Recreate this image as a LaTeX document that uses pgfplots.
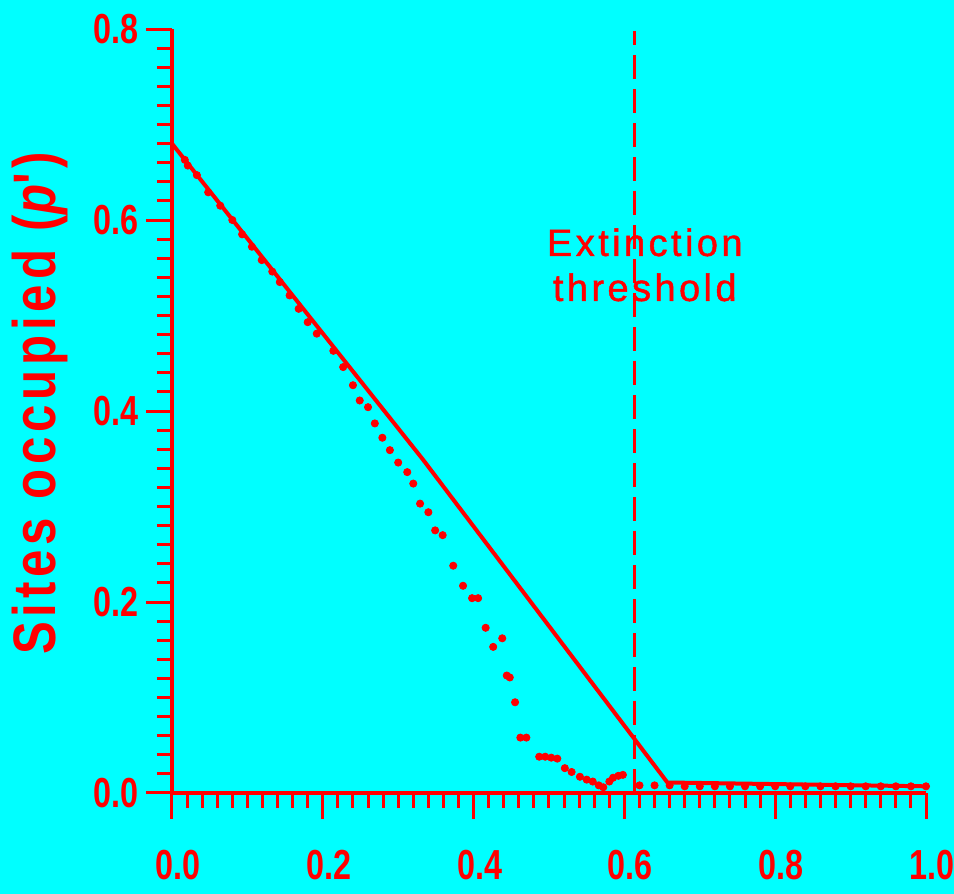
\documentclass[border=0pt]{standalone}
\usepackage{pgfplots}
\pgfplotsset{compat=1.18}
\usepackage{fontspec}
\setmainfont{Liberation Sans}
\newfontfamily\tickfont{Liberation Sans}[FakeStretch=0.77]
\newfontfamily\labfont{Liberation Sans}[FakeStretch=0.82,LetterSpace=8]
\newfontfamily\notefont{Liberation Sans}[LetterSpace=9,FakeBold=1.2]
\definecolor{bg}{HTML}{00FFFF}
\definecolor{ink}{HTML}{FF0000}

\begin{document}
\begin{tikzpicture}
\fill[bg] (-86pt,-50.5pt) rectangle (391pt,396.5pt);
\begin{axis}[
  scale only axis, width=377pt, height=382pt,
  xmin=0, xmax=1, ymin=0, ymax=0.8,
  clip=false,
  axis lines=left,
  axis line style={-, draw=ink, line width=2pt},
  xtick={0,0.2,0.4,0.6,0.8,1.0},
  ytick={0,0.2,0.4,0.6,0.8},
  minor tick num=9,
  tick align=outside,
  major tick length=13pt, minor tick length=7.5pt,
  tick style={draw=ink, line width=1.5pt},
  tick label style={font=\tickfont\bfseries\fontsize{21}{21}\selectfont, text=ink},
  xticklabel style={xshift=3pt, yshift=-12pt},
  /pgf/number format/.cd, fixed, fixed zerofill, precision=1, assume math mode=true,
  /pgfplots/.cd,
  ylabel={Sites occupied ({\itshape p}')},
  ylabel style={font=\labfont\bfseries\fontsize{30}{30}\selectfont, text=ink,
    at={(axis description cs:-0.175,0.51)}, anchor=center},
]
% model line
\addplot[ink, line width=2pt] coordinates {(0,0.68)(0.333,0.349)(0.657,0.011)(1.0,0.007)};
% threshold
\addplot[ink, line width=1.5pt, dash pattern=on 12pt off 5pt] coordinates {(0.614,0)(0.614,0.798)};
% simulation points
\addplot[only marks, mark=*, mark size=1.8pt, ink] coordinates {
(0.017,0.663)(0.021,0.657)(0.033,0.647)(0.048,0.629)(0.064,0.615)(0.080,0.600)
(0.093,0.585)(0.106,0.572)(0.119,0.558)(0.133,0.546)(0.143,0.535)(0.156,0.521)
(0.168,0.507)(0.180,0.493)(0.192,0.481)(0.214,0.463)(0.227,0.446)(0.240,0.427)
(0.249,0.411)(0.260,0.404)(0.269,0.387)(0.279,0.372)(0.289,0.359)(0.300,0.346)
(0.312,0.336)(0.320,0.324)(0.329,0.303)(0.340,0.294)(0.349,0.275)(0.359,0.270)
(0.373,0.238)(0.386,0.217)(0.398,0.204)(0.406,0.204)(0.416,0.173)(0.426,0.153)
(0.438,0.162)(0.444,0.123)(0.448,0.121)(0.455,0.095)(0.462,0.058)(0.470,0.058)
(0.487,0.038)(0.495,0.038)(0.503,0.037)(0.511,0.036)(0.521,0.026)(0.530,0.022)
(0.541,0.017)(0.550,0.014)(0.558,0.012)(0.566,0.008)(0.572,0.006)(0.580,0.012)
(0.585,0.016)(0.592,0.018)(0.598,0.019)
(0.62,0.008)(0.64,0.008)(0.66,0.008)(0.68,0.007)(0.70,0.007)(0.72,0.007)
(0.74,0.007)(0.76,0.007)(0.78,0.007)(0.80,0.007)(0.82,0.007)(0.84,0.007)
(0.86,0.007)(0.88,0.007)(0.90,0.007)(0.92,0.007)(0.94,0.007)(0.96,0.007)
(0.98,0.007)(1.00,0.007)};
\node[font=\notefont\fontsize{19}{22.5}\selectfont, text=ink, align=center]
  at (axis cs:0.627,0.553) {Extinction\\threshold};
\end{axis}
\pgfresetboundingbox
\path (-86pt,-50.5pt) rectangle (391pt,396.5pt);
\end{tikzpicture}
\end{document}
